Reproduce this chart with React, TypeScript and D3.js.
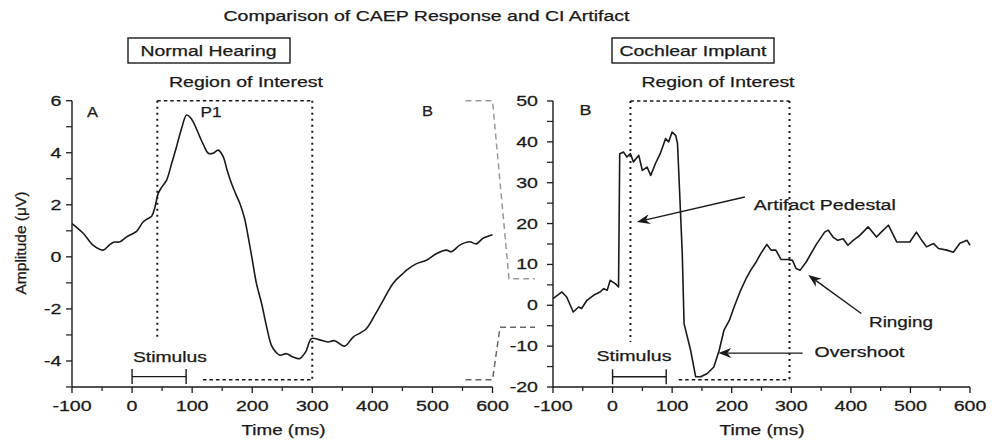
import React from 'react';
import * as d3 from 'd3';

const chartTitle = 'Comparison of CAEP Response and CI Artifact';
const panelTitles = ['Normal Hearing', 'Cochlear Implant'];
const xTicks = [-100, 0, 100, 200, 300, 400, 500, 600];
const xMinorTicks = [-50, 50, 150, 250, 350, 450, 550];
const leftYTicks = [-4, -2, 0, 2, 4, 6];
const leftYMinor = [-5, -3, -1, 1, 3, 5];
const rightYTicks = [-20, -10, 0, 10, 20, 30, 40, 50];
const rightYMinor = [-15, -5, 5, 15, 25, 35, 45];

// Normal hearing CAEP (µV)
const leftTime = [-100, -81, -65, -48, -38, -31, -20, -9, 0, 7.5, 18.6, 25, 32.6, 38, 43.6, 50, 57.5, 66, 74, 82, 90.7, 96, 101.8, 113, 120, 126.7, 135, 143.4, 151.7, 158, 165.6, 172, 179.5, 187, 193.3, 200, 207, 215.6, 224, 232, 239, 246, 257, 268, 279, 289, 298.6, 309.7, 326, 337, 354, 368, 380, 390, 404, 418, 435, 451, 457, 473.6, 490, 507, 523, 532, 545.6, 562, 573, 584, 600];
const leftAmp = [1.28, 0.9, 0.45, 0.26, 0.45, 0.56, 0.58, 0.77, 0.88, 0.98, 1.35, 1.45, 1.56, 1.9, 2.44, 2.7, 2.95, 3.6, 4.23, 4.9, 5.45, 5.38, 5.19, 4.6, 4.25, 3.98, 3.98, 4.1, 3.85, 3.35, 2.82, 2.45, 2.05, 1.5, 0.77, -0.1, -1.02, -1.79, -2.69, -3.4, -3.65, -3.78, -3.72, -3.85, -3.91, -3.65, -3.14, -3.17, -3.27, -3.22, -3.43, -3.08, -2.92, -2.76, -2.24, -1.67, -1.0, -0.64, -0.51, -0.26, -0.13, 0.13, 0.26, 0.2, 0.45, 0.58, 0.5, 0.71, 0.85];

// Cochlear implant recording (µV)
const rightTime = [-100, -85, -77, -66, -57, -52, -43, -32, -21, -15, -9, -4, 4.5, 10, 12, 18.5, 24, 30, 35, 44, 50, 58, 64, 72, 80, 89, 94, 100, 106, 109, 111, 117, 120, 131, 139.5, 148, 159, 170, 179, 187, 196, 204, 215, 224, 232, 241, 249, 259, 266, 274, 283, 294, 302, 308, 315, 325, 342, 356, 362, 370, 378, 387, 395, 404, 415, 429, 443, 451, 463, 477, 491, 499, 510, 519, 527, 539, 547, 561, 572, 583, 595, 600];
const rightAmp = [1.64, 3.26, 2.03, -1.64, -0.42, -0.8, 1.22, 2.45, 3.26, 4.08, 3.67, 6.1, 5.3, 4.48, 37.1, 37.5, 36.3, 37.1, 35.1, 36.7, 33.0, 33.8, 31.8, 34.7, 37.1, 40.8, 40, 42.4, 41.6, 39.6, 33, 12.7, -4.5, -11, -17.5, -17.5, -16.7, -15.1, -11, -6.1, -3.7, -0.4, 3.67, 6.5, 8.6, 10.6, 12.7, 14.9, 13.5, 13.5, 11.2, 11.2, 11, 9, 8.6, 10.6, 14.9, 17.9, 18.4, 16.7, 15.9, 16.3, 14.7, 15.9, 17.1, 19.2, 16.7, 17.9, 19.6, 15.5, 15.5, 15.5, 17.9, 15.9, 14.3, 15.1, 13.9, 13.5, 13, 15.2, 15.9, 14.7];

const annotations = [
  { label: 'Artifact Pedestal', tail: [222, 26.5], tip: [41, 20.4], text: [237, 23.3], width: 142 },
  { label: 'Ringing', tail: [417.5, -2], tip: [328.6, 7.4], text: [430.5, -5.4], width: 64 },
  { label: 'Overshoot', tail: [319, -11.7], tip: [177.5, -11.7], text: [339, -12.6], width: 90 },
];

const INK = '#1a1a1a';
const FONT = 'Liberation Sans, Arial, Helvetica, sans-serif';
const FS = 14;
const SX = 1.4;

function Label({ x, y, w, size = FS, anchor = 'middle', children }: any) {
  return (
    <text x={x} y={y} fontSize={size} textAnchor={anchor} textLength={w} lengthAdjust="spacingAndGlyphs" fill={INK} stroke={INK} strokeWidth={0.25}>
      {children}
    </text>
  );
}

function Tick({ x, y, anchor = 'middle', children }: any) {
  return (
    <text transform={`translate(${x},${y}) scale(${SX},1)`} fontSize={FS} textAnchor={anchor} fill={INK} stroke={INK} strokeWidth={0.25}>
      {children}
    </text>
  );
}

function Arrow({ x1, y1, x2, y2 }: any) {
  const ang = Math.atan2(y2 - y1, x2 - x1);
  const L = 13, W = 5, N = 9;
  const bx = x2 - L * Math.cos(ang), by = y2 - L * Math.sin(ang);
  const nx = x2 - N * Math.cos(ang), ny = y2 - N * Math.sin(ang);
  const px = -Math.sin(ang) * W, py = Math.cos(ang) * W;
  return (
    <g>
      <line x1={x1} y1={y1} x2={nx} y2={ny} stroke={INK} strokeWidth={1.4} />
      <path d={`M${x2},${y2} L${bx + px},${by + py} L${nx},${ny} L${bx - px},${by - py} Z`} fill={INK} />
    </g>
  );
}

export default function App() {
  const xL = d3.scaleLinear().domain([-100, 600]).range([72, 492.5]);
  const yL = d3.scaleLinear().domain([-5, 6]).range([387, 100.7]);
  const xR = d3.scaleLinear().domain([-100, 600]).range([553, 970]);
  const yR = d3.scaleLinear().domain([-20, 50]).range([387, 101]);

  const leftLine = d3.line<number>().x((d, i) => xL(leftTime[i])).y((d) => yL(d)).curve(d3.curveCatmullRom.alpha(0.5));
  const rightLine = d3.line<number>().x((d, i) => xR(rightTime[i])).y((d) => yR(d)).curve(d3.curveLinear);

  const axisBottom = (x: any, y0: number) => (
    <g>
      <line x1={x(-100)} x2={x(600)} y1={y0} y2={y0} stroke={INK} strokeWidth={1.4} />
      {xTicks.map((t) => (
        <g key={'M' + t}>
          <line x1={x(t)} x2={x(t)} y1={y0} y2={y0 + 6} stroke={INK} strokeWidth={1.3} />
          <Tick x={x(t)} y={y0 + 24}>{String(t)}</Tick>
        </g>
      ))}
      {xMinorTicks.map((t) => (
        <line key={'m' + t} x1={x(t)} x2={x(t)} y1={y0} y2={y0 + 4} stroke={INK} strokeWidth={1.2} />
      ))}
    </g>
  );

  const axisLeft = (y: any, x0: number, major: number[], minor: number[], gap: number) => (
    <g>
      <line x1={x0} x2={x0} y1={y.range()[0]} y2={y.range()[1]} stroke={INK} strokeWidth={1.4} />
      {major.map((v) => (
        <g key={'M' + v}>
          <line x1={x0 - 6} x2={x0} y1={y(v)} y2={y(v)} stroke={INK} strokeWidth={1.3} />
          <Tick x={x0 - gap} y={y(v) + 5} anchor="end">{String(v)}</Tick>
        </g>
      ))}
      {minor.map((v) => (
        <line key={'m' + v} x1={x0 - 6} x2={x0} y1={y(v)} y2={y(v)} stroke={INK} strokeWidth={1.2} />
      ))}
    </g>
  );

  const stim = (x: any, y: any, v: number) => (
    <g stroke={INK} strokeWidth={1.4}>
      <line x1={x(0)} x2={x(90)} y1={y(v)} y2={y(v)} />
      <line x1={x(0)} x2={x(0)} y1={y(v) - 7.5} y2={y(v) + 7.5} />
      <line x1={x(90)} x2={x(90)} y1={y(v) - 7.5} y2={y(v) + 7.5} />
    </g>
  );

  return (
    <svg width={992} height={444} style={{ position: 'absolute', left: 0, top: 0, background: '#fff' }} fontFamily={FONT}>
      <rect width={992} height={444} fill="#fff" />
      <Label x={426.5} y={21} w={406}>{chartTitle}</Label>

      {/* panel titles */}
      <rect x={128} y={38} width={162} height={25} fill="none" stroke={INK} strokeWidth={1.4} />
      <Label x={208.5} y={56} w={136}>{panelTitles[0]}</Label>
      <rect x={612} y={38} width={162} height={25} fill="none" stroke={INK} strokeWidth={1.4} />
      <Label x={693} y={56} w={147}>{panelTitles[1]}</Label>

      <Label x={246} y={87} w={154}>Region of Interest</Label>
      <Label x={718} y={87} w={153}>Region of Interest</Label>

      {/* left ROI */}
      <g stroke={INK} strokeWidth={1.5} fill="none">
        <line x1={xL(42)} x2={xL(300)} y1={yL(6)} y2={yL(6)} strokeDasharray="3.5,3" />
        <line x1={xL(42)} x2={xL(42)} y1={yL(6)} y2={yL(-3.2)} strokeDasharray="2,4" strokeWidth={2} />
        <line x1={xL(300)} x2={xL(300)} y1={yL(6)} y2={yL(-4.72)} strokeDasharray="2,4" strokeWidth={2} />
        <line x1={xL(118)} x2={xL(300)} y1={yL(-4.72)} y2={yL(-4.72)} strokeDasharray="3.5,3" />
      </g>
      {/* right ROI */}
      <g stroke={INK} strokeWidth={1.5} fill="none">
        <line x1={xR(30)} x2={xR(297)} y1={yR(50)} y2={yR(50)} strokeDasharray="3.5,3" />
        <line x1={xR(30)} x2={xR(30)} y1={yR(50)} y2={yR(-9)} strokeDasharray="2,4" strokeWidth={2} />
        <line x1={xR(297)} x2={xR(297)} y1={yR(50)} y2={yR(-18.2)} strokeDasharray="2,4" strokeWidth={2} />
        <line x1={xR(111)} x2={xR(297)} y1={yR(-18.2)} y2={yR(-18.2)} strokeDasharray="3.5,3" />
      </g>

      {/* zoom connection lines */}
      <path d={`M${xL(555)},${yL(6)} L${xL(600)},${yL(6)} L${xR(-100) - 44},${yR(6.5)} L${xR(-100) - 18},${yR(6.5)}`} fill="none" stroke="#999" strokeWidth={1.5} strokeDasharray="6,4" />
      <path d={`M${xL(555)},${yL(-4.72)} L${xL(600)},${yL(-4.72)} L${xR(-100) - 53},${yR(-5.4)} L${xR(-100) - 18},${yR(-5.4)}`} fill="none" stroke="#666" strokeWidth={1.5} strokeDasharray="6,4" />

      {/* axes */}
      {axisBottom(xL, 387)}
      {axisLeft(yL, 72, leftYTicks, leftYMinor, 10.5)}
      {axisBottom(xR, 387)}
      {axisLeft(yR, 553, rightYTicks, rightYMinor, 15)}

      <Label x={283.5} y={435} w={84}>Time (ms)</Label>
      <Label x={762} y={435} w={85}>Time (ms)</Label>
      <g transform="translate(26,243) rotate(-90)">
        <text x={0} y={0} fontSize={14} textAnchor="middle" textLength={103} lengthAdjust="spacingAndGlyphs" fill={INK} stroke={INK} strokeWidth={0.25}>Amplitude (μV)</text>
      </g>

      {/* curves */}
      <path d={leftLine(leftAmp) || ''} fill="none" stroke={INK} strokeWidth={1.6} />
      <path d={rightLine(rightAmp) || ''} fill="none" stroke={INK} strokeWidth={1.6} strokeLinejoin="round" />

      {/* letters */}
      <Label x={92.5} y={117} w={11}>A</Label>
      <Label x={211} y={117} w={21}>P1</Label>
      <Label x={427.5} y={116} w={11}>B</Label>
      <Label x={585.5} y={115} w={12}>B</Label>

      {/* stimulus */}
      {stim(xL, yL, -4.6)}
      <Label x={170} y={362} w={74}>Stimulus</Label>
      {stim(xR, yR, -17.5)}
      <Label x={634} y={361} w={75}>Stimulus</Label>

      {/* annotations */}
      {annotations.map((a) => (
        <g key={a.label}>
          <Arrow x1={xR(a.tail[0])} y1={yR(a.tail[1])} x2={xR(a.tip[0])} y2={yR(a.tip[1])} />
          <Label x={xR(a.text[0])} y={yR(a.text[1])} w={a.width} anchor="start">{a.label}</Label>
        </g>
      ))}
    </svg>
  );
}
